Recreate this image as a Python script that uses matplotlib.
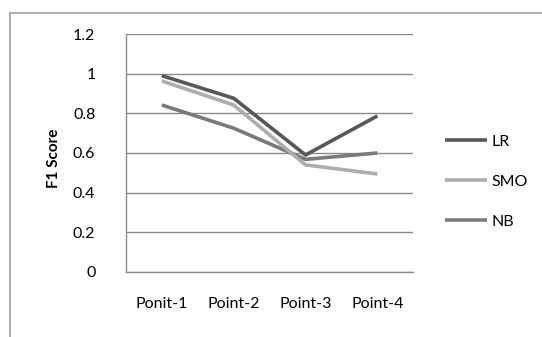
import matplotlib.pyplot as plt
from matplotlib.patches import Rectangle

# Data
categories = ['Ponit-1', 'Point-2', 'Point-3', 'Point-4']
lr = [0.99, 0.876, 0.59, 0.787]
smo = [0.963, 0.842, 0.54, 0.494]
nb = [0.842, 0.725, 0.568, 0.60]
series_names = ['LR', 'SMO', 'NB']
yticks = [0, 0.2, 0.4, 0.6, 0.8, 1, 1.2]
ytick_labels = ['0', '0.2', '0.4', '0.6', '0.8', '1', '1.2']

plt.rcParams['font.family'] = ['Lato', 'DejaVu Sans']

fig = plt.figure(figsize=(5.42, 3.37), dpi=100)
ax = fig.add_axes([0.2325, 0.193, 0.53, 0.706])

# outer chart border
fig.patches.append(Rectangle((10 / 542, -0.1), 1.2, (337 - 13) / 337 + 0.1,
                             transform=fig.transFigure, fill=False,
                             edgecolor='#a0a0a0', linewidth=1.2))

x = range(len(categories))
colors = ['#575757', '#adadad', '#7a7a7a']
order = [(lr, 0), (smo, 1), (nb, 2)]
lines = []
for vals, i in order:
    ln, = ax.plot(x, vals, color=colors[i], linewidth=2.6, label=series_names[i],
                  solid_capstyle='butt', zorder=3 - i * 0.1)
    lines.append(ln)

ax.set_xlim(-0.5, len(categories) - 0.5)
ax.set_ylim(0, 1.2)
ax.set_yticks(yticks)
ax.set_yticklabels(ytick_labels)
ax.set_xticks(list(x))
ax.set_xticklabels(categories)
ax.tick_params(axis='both', length=0, labelsize=11.5, colors='black')
ax.tick_params(axis='y', pad=22)
ax.tick_params(axis='x', pad=18)

ax.yaxis.grid(True, color='#8c8c8c', linewidth=1.0)
ax.set_axisbelow(True)
for s in ['top', 'right']:
    ax.spines[s].set_visible(False)
for s in ['left', 'bottom']:
    ax.spines[s].set_color('#8c8c8c')
    ax.spines[s].set_linewidth(1.0)

fig.text(54 / 542, 1 - 158 / 337, 'F1 Score', rotation=90, ha='center', va='center',
         fontsize=11, fontweight='bold')

fig.legend(handles=lines, labels=series_names, loc='upper left',
           bbox_to_anchor=(431 / 542, 1 - 120 / 337), frameon=False,
           fontsize=11.5, handlelength=2.6, labelspacing=1.62, handletextpad=0.3)

fig.savefig('out.png', dpi=100)
